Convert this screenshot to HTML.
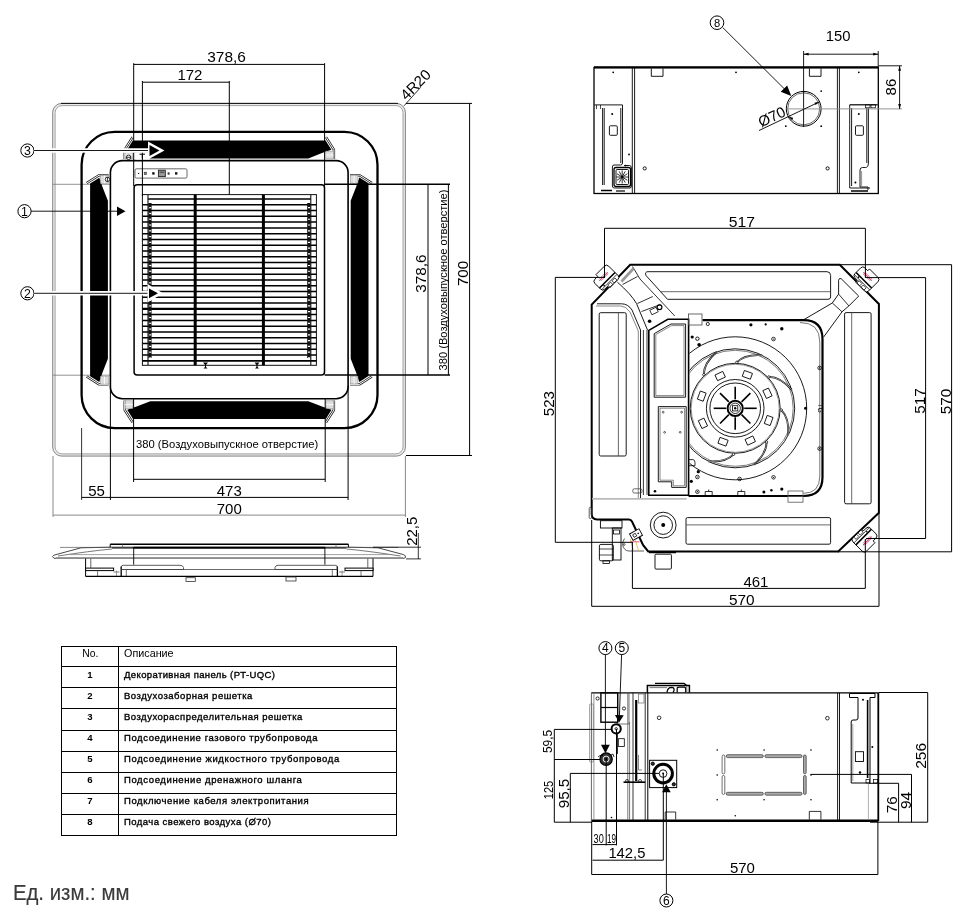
<!DOCTYPE html>
<html><head><meta charset="utf-8"><style>
html,body{margin:0;padding:0;background:#fff;}
body{width:972px;height:920px;overflow:hidden;font-family:"Liberation Sans",sans-serif;}
svg{display:block;will-change:transform;}
</style></head><body>
<svg width="972" height="920" viewBox="0 0 972 920" font-family="Liberation Sans, sans-serif">
<rect x="0" y="0" width="972" height="920" fill="#fff"/>
<rect x="53.90" y="104.40" width="350.30" height="350.50" rx="8" fill="none" stroke="#ebebeb" stroke-width="2.2" />
<rect x="52.70" y="103.40" width="352.70" height="352.70" rx="9" fill="none" stroke="#666" stroke-width="0.8" />
<rect x="55.10" y="105.60" width="347.90" height="348.30" rx="7" fill="none" stroke="#8a8a8a" stroke-width="0.8" />
<line x1="61.00" y1="103.40" x2="398.00" y2="103.40" stroke="#111" stroke-width="1.0" />
<line x1="53.00" y1="184.30" x2="110.00" y2="184.30" stroke="#777" stroke-width="0.8" />
<line x1="53.00" y1="375.20" x2="110.00" y2="375.20" stroke="#777" stroke-width="0.8" />
<rect x="81.60" y="131.80" width="295.90" height="296.30" rx="33" fill="none" stroke="#000" stroke-width="2.3" />
<rect x="110.40" y="160.60" width="237.70" height="238.10" rx="12" fill="none" stroke="#000" stroke-width="1.6" />
<rect x="134.10" y="184.80" width="190.40" height="190.20" rx="3" fill="none" stroke="#000" stroke-width="1.5" />
<rect x="142.40" y="194.60" width="174.00" height="170.70" rx="0" fill="none" stroke="#111" stroke-width="1.0" />
<line x1="147.80" y1="199.00" x2="311.00" y2="199.00" stroke="#000" stroke-width="1.5" />
<line x1="142.40" y1="204.78" x2="316.40" y2="204.78" stroke="#000" stroke-width="1.5" />
<line x1="142.40" y1="210.56" x2="316.40" y2="210.56" stroke="#000" stroke-width="1.5" />
<line x1="142.40" y1="216.34" x2="316.40" y2="216.34" stroke="#000" stroke-width="1.5" />
<line x1="142.40" y1="222.12" x2="316.40" y2="222.12" stroke="#000" stroke-width="1.5" />
<line x1="142.40" y1="227.90" x2="316.40" y2="227.90" stroke="#000" stroke-width="1.5" />
<line x1="142.40" y1="233.68" x2="316.40" y2="233.68" stroke="#000" stroke-width="1.5" />
<line x1="142.40" y1="239.46" x2="316.40" y2="239.46" stroke="#000" stroke-width="1.5" />
<line x1="142.40" y1="245.24" x2="316.40" y2="245.24" stroke="#000" stroke-width="1.5" />
<line x1="142.40" y1="251.02" x2="316.40" y2="251.02" stroke="#000" stroke-width="1.5" />
<line x1="142.40" y1="256.80" x2="316.40" y2="256.80" stroke="#000" stroke-width="1.5" />
<line x1="142.40" y1="262.58" x2="316.40" y2="262.58" stroke="#000" stroke-width="1.5" />
<line x1="142.40" y1="268.36" x2="316.40" y2="268.36" stroke="#000" stroke-width="1.5" />
<line x1="142.40" y1="274.14" x2="316.40" y2="274.14" stroke="#000" stroke-width="1.5" />
<line x1="142.40" y1="279.92" x2="316.40" y2="279.92" stroke="#000" stroke-width="1.5" />
<line x1="142.40" y1="285.70" x2="316.40" y2="285.70" stroke="#000" stroke-width="1.5" />
<line x1="142.40" y1="291.48" x2="316.40" y2="291.48" stroke="#000" stroke-width="1.5" />
<line x1="142.40" y1="297.26" x2="316.40" y2="297.26" stroke="#000" stroke-width="1.5" />
<line x1="142.40" y1="303.04" x2="316.40" y2="303.04" stroke="#000" stroke-width="1.5" />
<line x1="142.40" y1="308.82" x2="316.40" y2="308.82" stroke="#000" stroke-width="2.3" />
<line x1="142.40" y1="314.60" x2="316.40" y2="314.60" stroke="#000" stroke-width="1.5" />
<line x1="142.40" y1="320.38" x2="316.40" y2="320.38" stroke="#000" stroke-width="1.5" />
<line x1="142.40" y1="326.16" x2="316.40" y2="326.16" stroke="#000" stroke-width="1.5" />
<line x1="142.40" y1="331.94" x2="316.40" y2="331.94" stroke="#000" stroke-width="1.5" />
<line x1="142.40" y1="337.72" x2="316.40" y2="337.72" stroke="#000" stroke-width="1.5" />
<line x1="142.40" y1="343.50" x2="316.40" y2="343.50" stroke="#000" stroke-width="1.5" />
<line x1="142.40" y1="349.28" x2="316.40" y2="349.28" stroke="#000" stroke-width="1.5" />
<line x1="142.40" y1="355.06" x2="316.40" y2="355.06" stroke="#000" stroke-width="1.5" />
<line x1="142.40" y1="360.84" x2="316.40" y2="360.84" stroke="#000" stroke-width="1.9" />
<line x1="148.00" y1="195.00" x2="148.00" y2="365.00" stroke="#111" stroke-width="1.1" />
<line x1="310.80" y1="195.00" x2="310.80" y2="365.00" stroke="#111" stroke-width="1.1" />
<line x1="150.00" y1="203.00" x2="150.00" y2="358.00" stroke="#111" stroke-width="3.2" />
<line x1="308.80" y1="203.00" x2="308.80" y2="358.00" stroke="#111" stroke-width="3.2" />
<line x1="149.20" y1="201.90" x2="151.20" y2="201.90" stroke="#fff" stroke-width="1.2" />
<line x1="308.00" y1="201.90" x2="310.00" y2="201.90" stroke="#fff" stroke-width="1.2" />
<line x1="149.20" y1="207.68" x2="151.20" y2="207.68" stroke="#fff" stroke-width="1.2" />
<line x1="308.00" y1="207.68" x2="310.00" y2="207.68" stroke="#fff" stroke-width="1.2" />
<line x1="149.20" y1="213.46" x2="151.20" y2="213.46" stroke="#fff" stroke-width="1.2" />
<line x1="308.00" y1="213.46" x2="310.00" y2="213.46" stroke="#fff" stroke-width="1.2" />
<line x1="149.20" y1="219.24" x2="151.20" y2="219.24" stroke="#fff" stroke-width="1.2" />
<line x1="308.00" y1="219.24" x2="310.00" y2="219.24" stroke="#fff" stroke-width="1.2" />
<line x1="149.20" y1="225.02" x2="151.20" y2="225.02" stroke="#fff" stroke-width="1.2" />
<line x1="308.00" y1="225.02" x2="310.00" y2="225.02" stroke="#fff" stroke-width="1.2" />
<line x1="149.20" y1="230.80" x2="151.20" y2="230.80" stroke="#fff" stroke-width="1.2" />
<line x1="308.00" y1="230.80" x2="310.00" y2="230.80" stroke="#fff" stroke-width="1.2" />
<line x1="149.20" y1="236.58" x2="151.20" y2="236.58" stroke="#fff" stroke-width="1.2" />
<line x1="308.00" y1="236.58" x2="310.00" y2="236.58" stroke="#fff" stroke-width="1.2" />
<line x1="149.20" y1="242.36" x2="151.20" y2="242.36" stroke="#fff" stroke-width="1.2" />
<line x1="308.00" y1="242.36" x2="310.00" y2="242.36" stroke="#fff" stroke-width="1.2" />
<line x1="149.20" y1="248.14" x2="151.20" y2="248.14" stroke="#fff" stroke-width="1.2" />
<line x1="308.00" y1="248.14" x2="310.00" y2="248.14" stroke="#fff" stroke-width="1.2" />
<line x1="149.20" y1="253.92" x2="151.20" y2="253.92" stroke="#fff" stroke-width="1.2" />
<line x1="308.00" y1="253.92" x2="310.00" y2="253.92" stroke="#fff" stroke-width="1.2" />
<line x1="149.20" y1="259.70" x2="151.20" y2="259.70" stroke="#fff" stroke-width="1.2" />
<line x1="308.00" y1="259.70" x2="310.00" y2="259.70" stroke="#fff" stroke-width="1.2" />
<line x1="149.20" y1="265.48" x2="151.20" y2="265.48" stroke="#fff" stroke-width="1.2" />
<line x1="308.00" y1="265.48" x2="310.00" y2="265.48" stroke="#fff" stroke-width="1.2" />
<line x1="149.20" y1="271.26" x2="151.20" y2="271.26" stroke="#fff" stroke-width="1.2" />
<line x1="308.00" y1="271.26" x2="310.00" y2="271.26" stroke="#fff" stroke-width="1.2" />
<line x1="149.20" y1="277.04" x2="151.20" y2="277.04" stroke="#fff" stroke-width="1.2" />
<line x1="308.00" y1="277.04" x2="310.00" y2="277.04" stroke="#fff" stroke-width="1.2" />
<line x1="149.20" y1="282.82" x2="151.20" y2="282.82" stroke="#fff" stroke-width="1.2" />
<line x1="308.00" y1="282.82" x2="310.00" y2="282.82" stroke="#fff" stroke-width="1.2" />
<line x1="149.20" y1="288.60" x2="151.20" y2="288.60" stroke="#fff" stroke-width="1.2" />
<line x1="308.00" y1="288.60" x2="310.00" y2="288.60" stroke="#fff" stroke-width="1.2" />
<line x1="149.20" y1="294.38" x2="151.20" y2="294.38" stroke="#fff" stroke-width="1.2" />
<line x1="308.00" y1="294.38" x2="310.00" y2="294.38" stroke="#fff" stroke-width="1.2" />
<line x1="149.20" y1="300.16" x2="151.20" y2="300.16" stroke="#fff" stroke-width="1.2" />
<line x1="308.00" y1="300.16" x2="310.00" y2="300.16" stroke="#fff" stroke-width="1.2" />
<line x1="149.20" y1="305.94" x2="151.20" y2="305.94" stroke="#fff" stroke-width="1.2" />
<line x1="308.00" y1="305.94" x2="310.00" y2="305.94" stroke="#fff" stroke-width="1.2" />
<line x1="149.20" y1="311.72" x2="151.20" y2="311.72" stroke="#fff" stroke-width="1.2" />
<line x1="308.00" y1="311.72" x2="310.00" y2="311.72" stroke="#fff" stroke-width="1.2" />
<line x1="149.20" y1="317.50" x2="151.20" y2="317.50" stroke="#fff" stroke-width="1.2" />
<line x1="308.00" y1="317.50" x2="310.00" y2="317.50" stroke="#fff" stroke-width="1.2" />
<line x1="149.20" y1="323.28" x2="151.20" y2="323.28" stroke="#fff" stroke-width="1.2" />
<line x1="308.00" y1="323.28" x2="310.00" y2="323.28" stroke="#fff" stroke-width="1.2" />
<line x1="149.20" y1="329.06" x2="151.20" y2="329.06" stroke="#fff" stroke-width="1.2" />
<line x1="308.00" y1="329.06" x2="310.00" y2="329.06" stroke="#fff" stroke-width="1.2" />
<line x1="149.20" y1="334.84" x2="151.20" y2="334.84" stroke="#fff" stroke-width="1.2" />
<line x1="308.00" y1="334.84" x2="310.00" y2="334.84" stroke="#fff" stroke-width="1.2" />
<line x1="149.20" y1="340.62" x2="151.20" y2="340.62" stroke="#fff" stroke-width="1.2" />
<line x1="308.00" y1="340.62" x2="310.00" y2="340.62" stroke="#fff" stroke-width="1.2" />
<line x1="149.20" y1="346.40" x2="151.20" y2="346.40" stroke="#fff" stroke-width="1.2" />
<line x1="308.00" y1="346.40" x2="310.00" y2="346.40" stroke="#fff" stroke-width="1.2" />
<line x1="149.20" y1="352.18" x2="151.20" y2="352.18" stroke="#fff" stroke-width="1.2" />
<line x1="308.00" y1="352.18" x2="310.00" y2="352.18" stroke="#fff" stroke-width="1.2" />
<line x1="149.20" y1="357.96" x2="151.20" y2="357.96" stroke="#fff" stroke-width="1.2" />
<line x1="308.00" y1="357.96" x2="310.00" y2="357.96" stroke="#fff" stroke-width="1.2" />
<line x1="195.20" y1="194.60" x2="195.20" y2="365.30" stroke="#000" stroke-width="3.0" />
<line x1="263.40" y1="194.60" x2="263.40" y2="365.30" stroke="#000" stroke-width="3.0" />
<polygon points="203.00,362.50 208.00,362.50 205.50,365.50" fill="#000" stroke="none" stroke-width="0" />
<line x1="205.50" y1="365.00" x2="205.50" y2="368.00" stroke="#000" stroke-width="1" />
<polygon points="203.50,368.50 207.50,368.50 205.50,366.50" fill="#000" stroke="none" stroke-width="0" />
<polygon points="254.50,362.50 259.50,362.50 257.00,365.50" fill="#000" stroke="none" stroke-width="0" />
<line x1="257.00" y1="365.00" x2="257.00" y2="368.00" stroke="#000" stroke-width="1" />
<polygon points="255.00,368.50 259.00,368.50 257.00,366.50" fill="#000" stroke="none" stroke-width="0" />
<rect x="135.00" y="168.80" width="52.00" height="9.30" rx="1.5" fill="none" stroke="#444" stroke-width="0.8" />
<circle cx="138.60" cy="173.40" r="0.70" fill="#222" stroke="#000" stroke-width="0" />
<rect x="144.20" y="172.20" width="2.40" height="2.40" rx="0" fill="#888" stroke="#333" stroke-width="0.6" />
<rect x="152.20" y="172.20" width="2.40" height="2.40" rx="0" fill="#111" stroke="#000" stroke-width="0" />
<rect x="158.40" y="170.20" width="6.90" height="6.40" rx="0" fill="#999" stroke="#222" stroke-width="0.9" />
<line x1="159.50" y1="172.20" x2="164.20" y2="172.20" stroke="#222" stroke-width="0.8" />
<rect x="167.60" y="172.40" width="2.00" height="2.20" rx="0" fill="#333" stroke="#000" stroke-width="0" />
<rect x="175.00" y="172.20" width="2.40" height="2.40" rx="0" fill="#111" stroke="#000" stroke-width="0" />
<g transform="rotate(0 229.3 279.8)">
<polygon points="150.30,401.20 308.30,401.20 322.00,406.60 331.50,409.80 325.80,419.00 133.00,419.00 127.20,409.80 136.60,406.60" fill="#000" stroke="none" stroke-width="0" />
<path d="M124.7,400.5 L124.7,410 L132.6,422.4" fill="none" stroke="#222" stroke-width="2.4" stroke-linejoin="round"/>
<path d="M124.7,400.5 L124.7,410 L132.6,422.4" fill="none" stroke="#fff" stroke-width="1.0" stroke-linejoin="round"/>
<path d="M333.9,400.5 L333.9,410 L326,422.4" fill="none" stroke="#222" stroke-width="2.4" stroke-linejoin="round"/>
<path d="M333.9,400.5 L333.9,410 L326,422.4" fill="none" stroke="#fff" stroke-width="1.0" stroke-linejoin="round"/>
<rect x="125.20" y="400.80" width="7.60" height="7.60" rx="0" fill="#ddd" stroke="#999" stroke-width="0.6" />
<rect x="326.00" y="400.80" width="7.60" height="7.60" rx="0" fill="#ddd" stroke="#999" stroke-width="0.6" />
<line x1="125.20" y1="404.60" x2="132.80" y2="404.60" stroke="#fff" stroke-width="0.8" />
<line x1="326.00" y1="404.60" x2="333.60" y2="404.60" stroke="#fff" stroke-width="0.8" />
</g>
<g transform="rotate(90 229.3 279.8)">
<polygon points="150.30,401.20 308.30,401.20 322.00,406.60 331.50,409.80 325.80,419.00 133.00,419.00 127.20,409.80 136.60,406.60" fill="#000" stroke="none" stroke-width="0" />
<path d="M124.7,400.5 L124.7,410 L132.6,422.4" fill="none" stroke="#222" stroke-width="2.4" stroke-linejoin="round"/>
<path d="M124.7,400.5 L124.7,410 L132.6,422.4" fill="none" stroke="#fff" stroke-width="1.0" stroke-linejoin="round"/>
<path d="M333.9,400.5 L333.9,410 L326,422.4" fill="none" stroke="#222" stroke-width="2.4" stroke-linejoin="round"/>
<path d="M333.9,400.5 L333.9,410 L326,422.4" fill="none" stroke="#fff" stroke-width="1.0" stroke-linejoin="round"/>
<rect x="125.20" y="400.80" width="7.60" height="7.60" rx="0" fill="#ddd" stroke="#999" stroke-width="0.6" />
<rect x="326.00" y="400.80" width="7.60" height="7.60" rx="0" fill="#ddd" stroke="#999" stroke-width="0.6" />
<line x1="125.20" y1="404.60" x2="132.80" y2="404.60" stroke="#fff" stroke-width="0.8" />
<line x1="326.00" y1="404.60" x2="333.60" y2="404.60" stroke="#fff" stroke-width="0.8" />
</g>
<g transform="rotate(180 229.3 279.8)">
<polygon points="150.30,401.20 308.30,401.20 322.00,406.60 331.50,409.80 325.80,419.00 133.00,419.00 127.20,409.80 136.60,406.60" fill="#000" stroke="none" stroke-width="0" />
<path d="M124.7,400.5 L124.7,410 L132.6,422.4" fill="none" stroke="#222" stroke-width="2.4" stroke-linejoin="round"/>
<path d="M124.7,400.5 L124.7,410 L132.6,422.4" fill="none" stroke="#fff" stroke-width="1.0" stroke-linejoin="round"/>
<path d="M333.9,400.5 L333.9,410 L326,422.4" fill="none" stroke="#222" stroke-width="2.4" stroke-linejoin="round"/>
<path d="M333.9,400.5 L333.9,410 L326,422.4" fill="none" stroke="#fff" stroke-width="1.0" stroke-linejoin="round"/>
<rect x="125.20" y="400.80" width="7.60" height="7.60" rx="0" fill="#ddd" stroke="#999" stroke-width="0.6" />
<rect x="326.00" y="400.80" width="7.60" height="7.60" rx="0" fill="#ddd" stroke="#999" stroke-width="0.6" />
<line x1="125.20" y1="404.60" x2="132.80" y2="404.60" stroke="#fff" stroke-width="0.8" />
<line x1="326.00" y1="404.60" x2="333.60" y2="404.60" stroke="#fff" stroke-width="0.8" />
</g>
<g transform="rotate(270 229.3 279.8)">
<polygon points="150.30,401.20 308.30,401.20 322.00,406.60 331.50,409.80 325.80,419.00 133.00,419.00 127.20,409.80 136.60,406.60" fill="#000" stroke="none" stroke-width="0" />
<path d="M124.7,400.5 L124.7,410 L132.6,422.4" fill="none" stroke="#222" stroke-width="2.4" stroke-linejoin="round"/>
<path d="M124.7,400.5 L124.7,410 L132.6,422.4" fill="none" stroke="#fff" stroke-width="1.0" stroke-linejoin="round"/>
<path d="M333.9,400.5 L333.9,410 L326,422.4" fill="none" stroke="#222" stroke-width="2.4" stroke-linejoin="round"/>
<path d="M333.9,400.5 L333.9,410 L326,422.4" fill="none" stroke="#fff" stroke-width="1.0" stroke-linejoin="round"/>
<rect x="125.20" y="400.80" width="7.60" height="7.60" rx="0" fill="#ddd" stroke="#999" stroke-width="0.6" />
<rect x="326.00" y="400.80" width="7.60" height="7.60" rx="0" fill="#ddd" stroke="#999" stroke-width="0.6" />
<line x1="125.20" y1="404.60" x2="132.80" y2="404.60" stroke="#fff" stroke-width="0.8" />
<line x1="326.00" y1="404.60" x2="333.60" y2="404.60" stroke="#fff" stroke-width="0.8" />
</g>
<circle cx="128.60" cy="157.30" r="2.20" fill="#fff" stroke="#000" stroke-width="0.8" />
<line x1="126.40" y1="157.30" x2="130.80" y2="157.30" stroke="#000" stroke-width="0.8" />
<circle cx="107.40" cy="179.40" r="2.20" fill="#fff" stroke="#000" stroke-width="0.8" />
<line x1="107.40" y1="177.20" x2="107.40" y2="181.60" stroke="#000" stroke-width="0.8" />
<polygon points="135.50,152.20 149.50,152.20 149.50,159.50 135.50,159.50" fill="#fff" stroke="none" stroke-width="0" />
<line x1="139.50" y1="154.20" x2="145.00" y2="154.20" stroke="#000" stroke-width="1.0" />
<line x1="142.30" y1="154.20" x2="142.30" y2="158.50" stroke="#000" stroke-width="1.0" />
<line x1="133.70" y1="63.20" x2="133.70" y2="186.00" stroke="#000" stroke-width="1.0" />
<line x1="324.60" y1="63.20" x2="324.60" y2="186.00" stroke="#000" stroke-width="1.0" />
<line x1="133.70" y1="64.40" x2="324.60" y2="64.40" stroke="#000" stroke-width="1.0" />
<text x="226.60" y="62.40" font-size="15" text-anchor="middle" fill="#000" font-weight="normal" font-family="Liberation Sans, sans-serif"  textLength="38.6" lengthAdjust="spacingAndGlyphs" >378,6</text>
<line x1="142.40" y1="81.00" x2="142.40" y2="196.00" stroke="#000" stroke-width="1.0" />
<line x1="229.30" y1="81.00" x2="229.30" y2="194.60" stroke="#000" stroke-width="1.0" />
<line x1="142.40" y1="82.20" x2="229.30" y2="82.20" stroke="#000" stroke-width="1.0" />
<text x="189.90" y="80.30" font-size="15" text-anchor="middle" fill="#000" font-weight="normal" font-family="Liberation Sans, sans-serif"  textLength="25.0" lengthAdjust="spacingAndGlyphs" >172</text>
<line x1="406.00" y1="103.40" x2="472.00" y2="103.40" stroke="#000" stroke-width="1.0" />
<line x1="406.00" y1="455.50" x2="472.00" y2="455.50" stroke="#000" stroke-width="1.0" />
<line x1="469.60" y1="103.40" x2="469.60" y2="455.50" stroke="#000" stroke-width="1.0" />
<text x="468.40" y="273.50" font-size="15" text-anchor="middle" fill="#000" font-weight="normal" font-family="Liberation Sans, sans-serif" transform="rotate(-90 468.40 273.50)" textLength="25.2" lengthAdjust="spacingAndGlyphs" >700</text>
<line x1="324.60" y1="184.30" x2="450.00" y2="184.30" stroke="#000" stroke-width="1.4" />
<line x1="324.60" y1="375.00" x2="450.00" y2="375.00" stroke="#000" stroke-width="1.4" />
<line x1="428.00" y1="184.30" x2="428.00" y2="375.00" stroke="#000" stroke-width="1.0" />
<text x="426.00" y="273.60" font-size="15" text-anchor="middle" fill="#000" font-weight="normal" font-family="Liberation Sans, sans-serif" transform="rotate(-90 426.00 273.60)" textLength="38.4" lengthAdjust="spacingAndGlyphs" >378,6</text>
<line x1="448.40" y1="184.30" x2="448.40" y2="375.00" stroke="#000" stroke-width="1.0" />
<text x="446.60" y="280.00" font-size="11.2" text-anchor="middle" fill="#000" font-weight="normal" font-family="Liberation Sans, sans-serif" transform="rotate(-90 446.60 280.00)" textLength="181" lengthAdjust="spacingAndGlyphs" >380 (Воздуховыпускное отверстие)</text>
<line x1="404.00" y1="105.80" x2="420.70" y2="87.30" stroke="#000" stroke-width="0.8" />
<text x="406.50" y="101.00" font-size="15" text-anchor="start" fill="#000" font-weight="normal" font-family="Liberation Sans, sans-serif" transform="rotate(-45 406.50 101.00)"  >4R20</text>
<line x1="81.60" y1="428.00" x2="81.60" y2="500.00" stroke="#333" stroke-width="1.0" />
<line x1="110.40" y1="386.00" x2="110.40" y2="500.00" stroke="#000" stroke-width="1.0" />
<line x1="133.60" y1="398.70" x2="133.60" y2="482.00" stroke="#000" stroke-width="1.0" />
<line x1="325.20" y1="398.70" x2="325.20" y2="482.00" stroke="#000" stroke-width="1.0" />
<line x1="348.10" y1="386.00" x2="348.10" y2="500.00" stroke="#000" stroke-width="1.0" />
<line x1="133.60" y1="479.30" x2="325.20" y2="479.30" stroke="#000" stroke-width="1.0" />
<text x="136.00" y="448.00" font-size="10.7" text-anchor="start" fill="#000" font-weight="normal" font-family="Liberation Sans, sans-serif"  textLength="182.3" lengthAdjust="spacingAndGlyphs" >380 (Воздуховыпускное отверстие)</text>
<line x1="81.60" y1="497.40" x2="348.10" y2="497.40" stroke="#000" stroke-width="1.0" />
<text x="96.50" y="495.50" font-size="15" text-anchor="middle" fill="#000" font-weight="normal" font-family="Liberation Sans, sans-serif"   >55</text>
<text x="229.30" y="495.50" font-size="15" text-anchor="middle" fill="#000" font-weight="normal" font-family="Liberation Sans, sans-serif"   >473</text>
<line x1="53.00" y1="456.00" x2="53.00" y2="517.00" stroke="#888" stroke-width="1.0" />
<line x1="405.40" y1="456.00" x2="405.40" y2="517.00" stroke="#888" stroke-width="1.0" />
<line x1="53.00" y1="515.10" x2="405.40" y2="515.10" stroke="#888" stroke-width="1.0" />
<text x="229.30" y="513.50" font-size="15" text-anchor="middle" fill="#000" font-weight="normal" font-family="Liberation Sans, sans-serif"   >700</text>
<circle cx="27.40" cy="150.50" r="6.60" fill="none" stroke="#000" stroke-width="1.0" />
<text x="27.40" y="154.93" font-size="12.3" text-anchor="middle" fill="#000" font-weight="normal" font-family="Liberation Sans, sans-serif"   >3</text>
<circle cx="24.50" cy="211.20" r="6.60" fill="none" stroke="#000" stroke-width="1.0" />
<text x="24.50" y="215.63" font-size="12.3" text-anchor="middle" fill="#000" font-weight="normal" font-family="Liberation Sans, sans-serif"   >1</text>
<circle cx="27.40" cy="293.30" r="6.60" fill="none" stroke="#000" stroke-width="1.0" />
<text x="27.40" y="297.73" font-size="12.3" text-anchor="middle" fill="#000" font-weight="normal" font-family="Liberation Sans, sans-serif"   >2</text>
<line x1="34.00" y1="150.50" x2="152.00" y2="150.50" stroke="#fff" stroke-width="4.5" />
<line x1="34.00" y1="150.50" x2="152.00" y2="150.50" stroke="#000" stroke-width="0.9" />
<polygon points="164.50,150.50 148.00,141.60 148.00,159.40" fill="#fff" stroke="none" stroke-width="0" />
<polygon points="159.50,150.50 149.50,145.00 149.50,156.00" fill="#000" stroke="none" stroke-width="0" />
<line x1="31.10" y1="211.20" x2="118.00" y2="211.20" stroke="#000" stroke-width="0.9" />
<polygon points="125.50,211.20 117.00,206.50 117.00,215.90" fill="#000" stroke="none" stroke-width="0" />
<line x1="34.00" y1="293.30" x2="150.00" y2="293.30" stroke="#fff" stroke-width="4.5" />
<line x1="34.00" y1="293.30" x2="150.00" y2="293.30" stroke="#000" stroke-width="0.9" />
<polygon points="163.00,293.30 147.50,284.00 147.50,302.60" fill="#fff" stroke="none" stroke-width="0" />
<polygon points="158.00,293.30 149.00,288.60 149.00,298.20" fill="#000" stroke="none" stroke-width="0" />
<path d="M52.5,556.6 Q53,555 56,554.6 L81,547.8 L110,547.2 L349,547.2 L378,547.8 L403.5,554.6 Q406,555.5 405.5,557.5 L404,558.3 L54,558.3 Z" fill="none" stroke="#333" stroke-width="0.9" />
<path d="M58,556 Q90,551 112,549" fill="none" stroke="#555" stroke-width="0.8" />
<path d="M400.5,556 Q368.5,551 346.5,549" fill="none" stroke="#555" stroke-width="0.8" />
<line x1="60.00" y1="547.40" x2="110.20" y2="547.40" stroke="#555" stroke-width="0.7" />
<line x1="348.40" y1="547.40" x2="398.50" y2="547.40" stroke="#555" stroke-width="0.7" />
<line x1="70.00" y1="554.60" x2="389.00" y2="554.60" stroke="#888" stroke-width="0.8" />
<line x1="56.00" y1="557.90" x2="403.00" y2="557.90" stroke="#999" stroke-width="1.6" />
<line x1="110.20" y1="544.30" x2="348.40" y2="544.30" stroke="#000" stroke-width="1.4" />
<line x1="110.20" y1="544.30" x2="110.20" y2="547.40" stroke="#000" stroke-width="1.0" />
<line x1="348.40" y1="544.30" x2="348.40" y2="547.40" stroke="#000" stroke-width="1.0" />
<line x1="112.00" y1="548.00" x2="346.50" y2="548.00" stroke="#000" stroke-width="1.1" />
<line x1="122.60" y1="544.30" x2="122.60" y2="548.00" stroke="#555" stroke-width="0.7" />
<line x1="336.00" y1="544.30" x2="336.00" y2="548.00" stroke="#555" stroke-width="0.7" />
<line x1="133.30" y1="547.70" x2="325.30" y2="547.70" stroke="#000" stroke-width="1.8" />
<line x1="133.70" y1="547.50" x2="133.70" y2="564.70" stroke="#000" stroke-width="0.9" />
<line x1="324.90" y1="547.50" x2="324.90" y2="564.70" stroke="#000" stroke-width="0.9" />
<line x1="85.60" y1="558.50" x2="85.60" y2="576.40" stroke="#000" stroke-width="1.0" />
<line x1="90.80" y1="558.50" x2="90.80" y2="567.80" stroke="#555" stroke-width="0.9" />
<rect x="85.60" y="568.10" width="28.00" height="2.50" rx="0" fill="#fff" stroke="#000" stroke-width="1.0" />
<line x1="97.60" y1="570.60" x2="97.60" y2="576.40" stroke="#555" stroke-width="0.8" />
<line x1="113.60" y1="572.00" x2="119.50" y2="572.00" stroke="#555" stroke-width="0.8" />
<line x1="116.50" y1="570.60" x2="116.50" y2="576.40" stroke="#777" stroke-width="0.7" />
<line x1="126.30" y1="569.00" x2="126.30" y2="576.40" stroke="#555" stroke-width="0.8" />
<line x1="121.20" y1="566.50" x2="121.20" y2="576.40" stroke="#000" stroke-width="1.3" />
<line x1="373.00" y1="558.50" x2="373.00" y2="576.40" stroke="#000" stroke-width="1.0" />
<line x1="367.80" y1="558.50" x2="367.80" y2="567.80" stroke="#555" stroke-width="0.9" />
<rect x="345.00" y="568.10" width="28.00" height="2.50" rx="0" fill="#fff" stroke="#000" stroke-width="1.0" />
<line x1="361.00" y1="570.60" x2="361.00" y2="576.40" stroke="#555" stroke-width="0.8" />
<line x1="345.00" y1="572.00" x2="339.10" y2="572.00" stroke="#555" stroke-width="0.8" />
<line x1="342.10" y1="570.60" x2="342.10" y2="576.40" stroke="#777" stroke-width="0.7" />
<line x1="332.30" y1="569.00" x2="332.30" y2="576.40" stroke="#555" stroke-width="0.8" />
<line x1="337.40" y1="566.50" x2="337.40" y2="576.40" stroke="#000" stroke-width="1.3" />
<line x1="85.60" y1="576.40" x2="373.00" y2="576.40" stroke="#000" stroke-width="1.2" />
<path d="M121.3,569.5 L121.3,567 Q121.3,565.3 123.3,565.3 L180,565.3 Q183,565.3 183.5,567.5 L183.5,569.5 Z" fill="none" stroke="#333" stroke-width="0.8" />
<path d="M275,569.5 L275,567.5 Q275.5,565.3 278,565.3 L335.3,565.3 Q337.3,565.3 337.3,567 L337.3,569.5 Z" fill="none" stroke="#333" stroke-width="0.8" />
<line x1="121.30" y1="569.50" x2="337.30" y2="569.50" stroke="#444" stroke-width="0.8" />
<rect x="186.00" y="577.70" width="9.30" height="3.70" rx="0" fill="none" stroke="#333" stroke-width="0.8" />
<rect x="286.00" y="577.00" width="10.00" height="4.00" rx="0" fill="none" stroke="#333" stroke-width="0.8" />
<line x1="373.00" y1="547.20" x2="421.00" y2="547.20" stroke="#000" stroke-width="0.8" />
<line x1="406.00" y1="558.90" x2="421.00" y2="558.90" stroke="#000" stroke-width="0.8" />
<line x1="418.30" y1="533.00" x2="418.30" y2="559.00" stroke="#000" stroke-width="0.8" />
<text x="416.80" y="531.20" font-size="15" text-anchor="middle" fill="#000" font-weight="normal" font-family="Liberation Sans, sans-serif" transform="rotate(-90 416.80 531.20)"  >22,5</text>
<rect x="594.00" y="67.50" width="284.30" height="126.00" rx="0" fill="none" stroke="#000" stroke-width="1.3" />
<line x1="594.00" y1="67.40" x2="878.30" y2="67.40" stroke="#000" stroke-width="2.2" />
<line x1="632.30" y1="67.50" x2="632.30" y2="193.50" stroke="#000" stroke-width="0.9" />
<line x1="634.60" y1="67.50" x2="634.60" y2="193.50" stroke="#000" stroke-width="0.9" />
<line x1="837.40" y1="67.50" x2="837.40" y2="193.50" stroke="#000" stroke-width="0.9" />
<line x1="839.40" y1="67.50" x2="839.40" y2="193.50" stroke="#000" stroke-width="0.9" />
<path d="M651.3,68.5 L651.3,76.3 L663,76.3 L663,68.5" fill="none" stroke="#000" stroke-width="0.9" />
<path d="M809.4,68.5 L809.4,76.3 L821,76.3 L821,68.5" fill="none" stroke="#000" stroke-width="0.9" />
<circle cx="613.20" cy="72.30" r="0.90" fill="#000" stroke="#000" stroke-width="0" />
<circle cx="736.00" cy="72.30" r="0.90" fill="#000" stroke="#000" stroke-width="0" />
<circle cx="858.80" cy="72.30" r="0.90" fill="#000" stroke="#000" stroke-width="0" />
<circle cx="821.20" cy="91.10" r="0.90" fill="#000" stroke="#000" stroke-width="0" />
<circle cx="785.80" cy="126.20" r="0.90" fill="#000" stroke="#000" stroke-width="0" />
<circle cx="821.20" cy="126.20" r="0.90" fill="#000" stroke="#000" stroke-width="0" />
<circle cx="629.00" cy="154.50" r="0.90" fill="#000" stroke="#000" stroke-width="0" />
<circle cx="625.50" cy="165.60" r="0.90" fill="#000" stroke="#000" stroke-width="0" />
<circle cx="644.70" cy="168.40" r="1.60" fill="none" stroke="#000" stroke-width="0.9" />
<circle cx="827.60" cy="168.40" r="1.60" fill="none" stroke="#000" stroke-width="0.9" />
<path d="M594.4,104.9 L622.5,104.9 L622.5,163 Q622.5,165 620.5,165 L614,165 Q612.4,165 612.4,167 L612.4,186 Q612.4,188 614.4,188 L630,188 Q631.4,188 631.4,186 L631.4,168 Q631.4,165.5 629.4,165.5 L624,165.5" fill="none" stroke="#000" stroke-width="0.9" />
<line x1="602.60" y1="108.00" x2="602.60" y2="185.00" stroke="#000" stroke-width="0.9" />
<line x1="604.20" y1="108.00" x2="604.20" y2="185.00" stroke="#000" stroke-width="0.9" />
<line x1="620.80" y1="108.00" x2="620.80" y2="163.00" stroke="#000" stroke-width="0.9" />
<line x1="596.50" y1="105.00" x2="596.50" y2="109.00" stroke="#000" stroke-width="0.7" />
<line x1="600.50" y1="105.00" x2="600.50" y2="109.00" stroke="#000" stroke-width="0.7" />
<rect x="609.40" y="125.80" width="7.90" height="9.50" rx="1" fill="none" stroke="#000" stroke-width="0.9" />
<circle cx="612.20" cy="114.00" r="1.00" fill="#000" stroke="#000" stroke-width="0" />
<rect x="614.00" y="167.50" width="16.50" height="19.00" rx="2" fill="none" stroke="#000" stroke-width="1.3" />
<rect x="616.00" y="169.50" width="12.50" height="15.00" rx="1" fill="none" stroke="#000" stroke-width="0.9" />
<line x1="616.20" y1="177.00" x2="628.20" y2="177.00" stroke="#000" stroke-width="0.8" />
<line x1="617.00" y1="173.75" x2="627.40" y2="180.25" stroke="#000" stroke-width="0.8" />
<line x1="619.20" y1="171.37" x2="625.20" y2="182.63" stroke="#000" stroke-width="0.8" />
<line x1="622.20" y1="170.50" x2="622.20" y2="183.50" stroke="#000" stroke-width="0.8" />
<line x1="625.20" y1="171.37" x2="619.20" y2="182.63" stroke="#000" stroke-width="0.8" />
<line x1="627.40" y1="173.75" x2="617.00" y2="180.25" stroke="#000" stroke-width="0.8" />
<line x1="601.00" y1="190.50" x2="612.00" y2="190.50" stroke="#000" stroke-width="1.5" />
<line x1="616.00" y1="191.00" x2="625.00" y2="191.00" stroke="#000" stroke-width="1.2" />
<path d="M849.7,104.8 L877.7,104.8" fill="none" stroke="#000" stroke-width="1.2" />
<path d="M849.7,104.8 L849.7,188 L870,188" fill="none" stroke="#000" stroke-width="0.9" />
<line x1="851.60" y1="108.00" x2="851.60" y2="186.00" stroke="#000" stroke-width="0.9" />
<line x1="866.80" y1="108.00" x2="866.80" y2="163.00" stroke="#000" stroke-width="0.9" />
<line x1="868.40" y1="108.00" x2="868.40" y2="163.00" stroke="#000" stroke-width="0.9" />
<path d="M868.4,163 Q868.4,167.5 865.5,167.5 L862.5,167.5 Q860,167.5 860,170 L860,187 L868,187 L868,190" fill="none" stroke="#000" stroke-width="0.9" />
<line x1="861.60" y1="171.00" x2="861.60" y2="186.00" stroke="#666" stroke-width="0.7" />
<rect x="855.50" y="125.80" width="7.90" height="9.50" rx="1" fill="none" stroke="#000" stroke-width="0.9" />
<circle cx="858.80" cy="114.00" r="1.00" fill="#000" stroke="#000" stroke-width="0" />
<circle cx="855.40" cy="182.40" r="1.00" fill="#000" stroke="#000" stroke-width="0" />
<line x1="851.00" y1="191.00" x2="868.00" y2="191.00" stroke="#000" stroke-width="1.5" />
<rect x="865.50" y="104.80" width="4.50" height="3.00" rx="0" fill="none" stroke="#000" stroke-width="0.7" />
<rect x="871.00" y="104.80" width="4.50" height="3.00" rx="0" fill="none" stroke="#000" stroke-width="0.7" />
<circle cx="803.70" cy="108.80" r="17.40" fill="none" stroke="#000" stroke-width="1.0" />
<circle cx="803.70" cy="108.80" r="16.00" fill="none" stroke="#444" stroke-width="0.8" />
<line x1="803.60" y1="51.00" x2="803.60" y2="127.00" stroke="#000" stroke-width="0.9" />
<line x1="878.20" y1="51.00" x2="878.20" y2="67.00" stroke="#000" stroke-width="0.9" />
<line x1="803.60" y1="54.20" x2="878.20" y2="54.20" stroke="#000" stroke-width="0.9" />
<polygon points="803.60,54.20 808.60,52.80 808.60,55.60" fill="#000" stroke="none" stroke-width="0" />
<polygon points="878.20,54.20 873.20,55.60 873.20,52.80" fill="#000" stroke="none" stroke-width="0" />
<text x="838.20" y="41.40" font-size="14.8" text-anchor="middle" fill="#000" font-weight="normal" font-family="Liberation Sans, sans-serif"   >150</text>
<line x1="878.50" y1="65.80" x2="902.00" y2="65.80" stroke="#000" stroke-width="0.9" />
<line x1="788.00" y1="108.90" x2="902.00" y2="108.90" stroke="#888" stroke-width="0.9" />
<line x1="899.60" y1="65.80" x2="899.60" y2="108.90" stroke="#000" stroke-width="0.9" />
<polygon points="899.60,65.80 901.00,70.80 898.20,70.80" fill="#000" stroke="none" stroke-width="0" />
<polygon points="899.60,108.90 898.20,103.90 901.00,103.90" fill="#000" stroke="none" stroke-width="0" />
<text x="896.30" y="87.10" font-size="15" text-anchor="middle" fill="#000" font-weight="normal" font-family="Liberation Sans, sans-serif" transform="rotate(-90 896.30 87.10)"  >86</text>
<circle cx="717.00" cy="22.70" r="6.80" fill="none" stroke="#000" stroke-width="1.0" />
<text x="717.00" y="26.73" font-size="11.2" text-anchor="middle" fill="#000" font-weight="normal" font-family="Liberation Sans, sans-serif"   >8</text>
<line x1="722.80" y1="27.60" x2="786.00" y2="90.50" stroke="#000" stroke-width="0.9" />
<polygon points="791.30,96.10 780.73,91.76 787.15,85.46" fill="#000" stroke="none" stroke-width="0" />
<line x1="759.00" y1="130.50" x2="819.50" y2="101.80" stroke="#000" stroke-width="0.9" />
<polygon points="788.20,116.70 793.27,117.67 792.16,120.02" fill="#000" stroke="none" stroke-width="0" />
<polygon points="819.50,101.80 815.54,105.12 814.43,102.77" fill="#000" stroke="none" stroke-width="0" />
<text x="761.20" y="127.60" font-size="15" text-anchor="start" fill="#000" font-weight="normal" font-family="Liberation Sans, sans-serif" transform="rotate(-25.5 761.20 127.60)"  >Ø70</text>
<path d="M630.2,264.8 L839.8,264.8 L878.9,304 L878.9,512.8 L838.2,551.4 L648.2,551.4 L643,545 L632,521.5 Q631,519.4 629,519.4 L597,519.4 Q591.7,519.4 591.7,514 L591.7,304.6 Z" fill="none" stroke="#000" stroke-width="2.0" />
<rect x="589.20" y="507.40" width="2.40" height="11.10" rx="1" fill="none" stroke="#333" stroke-width="0.8" />
<path d="M648,271.7 L827,271.7 Q830.6,271.7 830.6,275.5 L830.6,297 Q830.6,299.3 828,299.3 L667.5,299.3 L646,275.5 Q644.5,271.7 648,271.7 Z" fill="none" stroke="#000" stroke-width="0.9" />
<line x1="660.00" y1="291.70" x2="830.60" y2="291.70" stroke="#444" stroke-width="0.8" />
<rect x="686.00" y="517.60" width="144.60" height="26.60" rx="1.5" fill="none" stroke="#000" stroke-width="0.9" />
<line x1="686.00" y1="524.90" x2="830.60" y2="524.90" stroke="#444" stroke-width="0.8" />
<rect x="599.20" y="312.70" width="27.00" height="143.30" rx="1.5" fill="none" stroke="#000" stroke-width="0.9" />
<line x1="618.40" y1="312.70" x2="618.40" y2="456.00" stroke="#444" stroke-width="0.8" />
<rect x="844.60" y="312.60" width="26.50" height="191.20" rx="1.5" fill="none" stroke="#000" stroke-width="0.9" />
<line x1="851.70" y1="312.60" x2="851.70" y2="503.80" stroke="#444" stroke-width="0.8" />
<path d="M597,303.8 L621.5,303.8 Q628,303.8 632,310 L640.5,330 L640.5,498" fill="none" stroke="#000" stroke-width="0.9" />
<path d="M596,306 L620.5,306 Q626,306 630,312 L638.3,331 L638.3,498" fill="none" stroke="#555" stroke-width="0.7" />
<line x1="592.00" y1="498.80" x2="686.50" y2="498.80" stroke="#888" stroke-width="1.6" />
<line x1="592.00" y1="498.80" x2="686.50" y2="498.80" stroke="#fff" stroke-width="0.6" />
<line x1="643.40" y1="330.00" x2="643.40" y2="495.00" stroke="#000" stroke-width="0.8" />
<line x1="647.00" y1="330.00" x2="647.00" y2="495.00" stroke="#000" stroke-width="0.8" />
<path d="M617.4,282.2 Q631,294 636.5,303.5 L647.5,330" fill="none" stroke="#000" stroke-width="0.9" />
<path d="M632.5,266.5 L640,279 L674.8,316" fill="none" stroke="#000" stroke-width="0.8" />
<line x1="621.50" y1="281.50" x2="633.50" y2="268.50" stroke="#999" stroke-width="2.6" />
<line x1="622.50" y1="284.50" x2="637.50" y2="276.50" stroke="#000" stroke-width="0.8" />
<line x1="637.40" y1="303.50" x2="652.80" y2="296.50" stroke="#000" stroke-width="0.8" />
<line x1="641.50" y1="311.50" x2="660.50" y2="304.50" stroke="#000" stroke-width="0.8" />
<rect x="650.50" y="308.50" width="7.00" height="5.00" rx="0" fill="none" stroke="#000" stroke-width="0.7" transform="rotate(-25 654 311)"/>
<circle cx="659.50" cy="307.30" r="2.40" fill="none" stroke="#000" stroke-width="1.2" />
<circle cx="649.60" cy="321.30" r="1.80" fill="#000" stroke="#000" stroke-width="0" />
<circle cx="707.80" cy="324.00" r="1.60" fill="none" stroke="#000" stroke-width="0.8" />
<circle cx="692.20" cy="337.00" r="1.60" fill="#000" stroke="#000" stroke-width="0" />
<circle cx="697.40" cy="338.70" r="1.70" fill="none" stroke="#000" stroke-width="0.9" />
<circle cx="699.10" cy="344.80" r="1.80" fill="#000" stroke="#000" stroke-width="0" />
<path d="M648.8,495.2 L648.8,330.4 L667.8,319.2 L688.6,319.2 L688.6,495.2 Z" fill="none" stroke="#000" stroke-width="1.6" />
<path d="M654.2,397.2 L654.2,333.7 L671,324 L685.6,324 L685.6,397.2 Z" fill="none" stroke="#000" stroke-width="0.9" />
<path d="M655.8,395.6 L655.8,334.6 L671.5,325.6 L684,325.6 L684,395.6 Z" fill="none" stroke="#555" stroke-width="0.7" />
<path d="M658.3,406.6 L686.2,406.6 L686.2,487.4 L671.7,487.4 L671.7,481.8 L658.3,481.8 Z" fill="none" stroke="#000" stroke-width="0.9" />
<path d="M660,408.2 L684.6,408.2 L684.6,485.8 L673.3,485.8 L673.3,480.2 L660,480.2 Z" fill="none" stroke="#555" stroke-width="0.7" />
<circle cx="663.20" cy="412.20" r="0.90" fill="none" stroke="#000" stroke-width="0.6" />
<circle cx="681.60" cy="412.20" r="0.90" fill="none" stroke="#000" stroke-width="0.6" />
<circle cx="664.60" cy="432.30" r="0.90" fill="none" stroke="#000" stroke-width="0.6" />
<circle cx="680.20" cy="432.30" r="0.90" fill="none" stroke="#000" stroke-width="0.6" />
<rect x="688.50" y="314.00" width="13.50" height="11.00" rx="0" fill="none" stroke="#444" stroke-width="0.8" />
<rect x="632.80" y="488.80" width="9.20" height="4.20" rx="1.5" fill="none" stroke="#444" stroke-width="0.8" />
<circle cx="655.00" cy="491.20" r="1.30" fill="#000" stroke="#000" stroke-width="0" />
<path d="M702.6,320.1 L803.5,320.1 Q822.5,320.1 822.5,339 L822.5,477 Q822.5,496 803.5,496 L688.6,496" fill="none" stroke="#000" stroke-width="2.2" />
<path d="M800,322.5 Q819.8,322.5 819.8,342 L819.8,476 Q819.8,493.3 803.5,493.3" fill="none" stroke="#555" stroke-width="0.8" />
<path d="M803.9,319.6 L832.3,303 L838.6,294.1 L838.6,280.5 Q838.6,278 841,278.5 L858.7,296.1 L848.9,305.9 L842,311.8 L823.5,337.2" fill="none" stroke="#000" stroke-width="0.9" />
<line x1="832.30" y1="303.00" x2="842.00" y2="311.80" stroke="#000" stroke-width="0.8" />
<line x1="838.60" y1="294.10" x2="848.90" y2="305.90" stroke="#000" stroke-width="0.8" />
<clipPath id="fanclip"><rect x="689.5" y="300" width="160" height="195"/></clipPath>
<g clip-path="url(#fanclip)">
<circle cx="735.20" cy="408.30" r="71.50" fill="none" stroke="#000" stroke-width="0.9" />
<circle cx="735.20" cy="408.30" r="59.50" fill="none" stroke="#000" stroke-width="0.9" />
<circle cx="735.20" cy="408.30" r="58.00" fill="none" stroke="#444" stroke-width="0.7" />
</g>
<circle cx="735.20" cy="408.30" r="45.00" fill="none" stroke="#000" stroke-width="0.9" />
<circle cx="735.20" cy="408.30" r="44.00" fill="none" stroke="#555" stroke-width="0.6" />
<circle cx="735.20" cy="408.30" r="28.80" fill="none" stroke="#000" stroke-width="0.9" />
<circle cx="735.20" cy="408.30" r="25.30" fill="none" stroke="#000" stroke-width="0.9" />
<circle cx="735.20" cy="408.30" r="7.60" fill="none" stroke="#000" stroke-width="2.0" />
<circle cx="735.20" cy="408.30" r="5.20" fill="none" stroke="#000" stroke-width="0.8" />
<rect x="732.60" y="405.70" width="5.20" height="5.20" rx="0" fill="none" stroke="#000" stroke-width="0.8" />
<circle cx="735.20" cy="408.30" r="1.20" fill="#000" stroke="#000" stroke-width="0" />
<line x1="744.20" y1="408.30" x2="756.70" y2="408.30" stroke="#000" stroke-width="1.6" />
<line x1="741.56" y1="414.66" x2="750.40" y2="423.50" stroke="#000" stroke-width="1.6" />
<line x1="735.20" y1="417.30" x2="735.20" y2="429.80" stroke="#000" stroke-width="1.6" />
<line x1="728.84" y1="414.66" x2="720.00" y2="423.50" stroke="#000" stroke-width="1.6" />
<line x1="726.20" y1="408.30" x2="713.70" y2="408.30" stroke="#000" stroke-width="1.6" />
<line x1="728.84" y1="401.94" x2="720.00" y2="393.10" stroke="#000" stroke-width="1.6" />
<line x1="735.20" y1="399.30" x2="735.20" y2="386.80" stroke="#000" stroke-width="1.6" />
<line x1="741.56" y1="401.94" x2="750.40" y2="393.10" stroke="#000" stroke-width="1.6" />
<g transform="rotate(20 735.2 408.3)">
<rect x="767.70" y="404.00" width="6.20" height="8.60" rx="0" fill="none" stroke="#000" stroke-width="0.8" />
</g>
<g transform="rotate(65 735.2 408.3)">
<rect x="767.70" y="404.00" width="6.20" height="8.60" rx="0" fill="none" stroke="#000" stroke-width="0.8" />
</g>
<g transform="rotate(110 735.2 408.3)">
<rect x="767.70" y="404.00" width="6.20" height="8.60" rx="0" fill="none" stroke="#000" stroke-width="0.8" />
</g>
<g transform="rotate(155 735.2 408.3)">
<rect x="767.70" y="404.00" width="6.20" height="8.60" rx="0" fill="none" stroke="#000" stroke-width="0.8" />
</g>
<g transform="rotate(200 735.2 408.3)">
<rect x="767.70" y="404.00" width="6.20" height="8.60" rx="0" fill="none" stroke="#000" stroke-width="0.8" />
</g>
<g transform="rotate(245 735.2 408.3)">
<rect x="767.70" y="404.00" width="6.20" height="8.60" rx="0" fill="none" stroke="#000" stroke-width="0.8" />
</g>
<g transform="rotate(290 735.2 408.3)">
<rect x="767.70" y="404.00" width="6.20" height="8.60" rx="0" fill="none" stroke="#000" stroke-width="0.8" />
</g>
<g transform="rotate(335 735.2 408.3)">
<rect x="767.70" y="404.00" width="6.20" height="8.60" rx="0" fill="none" stroke="#000" stroke-width="0.8" />
</g>
<path d="M781.2,409.9 Q789.4,417.9 788.2,435.3" fill="none" stroke="#000" stroke-width="1.8" />
<path d="M781.2,409.9 Q789.4,417.9 788.2,435.3" fill="none" stroke="#fff" stroke-width="0.6" />
<circle cx="781.17" cy="409.91" r="1.20" fill="#fff" stroke="#000" stroke-width="0.7" />
<path d="M766.6,441.9 Q766.7,453.4 753.6,464.9" fill="none" stroke="#000" stroke-width="1.8" />
<path d="M766.6,441.9 Q766.7,453.4 753.6,464.9" fill="none" stroke="#fff" stroke-width="0.6" />
<circle cx="766.57" cy="441.94" r="1.20" fill="#fff" stroke="#000" stroke-width="0.7" />
<path d="M733.6,454.3 Q725.6,462.5 708.2,461.3" fill="none" stroke="#000" stroke-width="1.8" />
<path d="M733.6,454.3 Q725.6,462.5 708.2,461.3" fill="none" stroke="#fff" stroke-width="0.6" />
<circle cx="733.59" cy="454.27" r="1.20" fill="#fff" stroke="#000" stroke-width="0.7" />
<path d="M703.8,374.7 Q703.7,363.2 716.8,351.7" fill="none" stroke="#000" stroke-width="1.8" />
<path d="M703.8,374.7 Q703.7,363.2 716.8,351.7" fill="none" stroke="#fff" stroke-width="0.6" />
<circle cx="703.83" cy="374.66" r="1.20" fill="#fff" stroke="#000" stroke-width="0.7" />
<path d="M736.8,362.3 Q744.8,354.1 762.2,355.3" fill="none" stroke="#000" stroke-width="1.8" />
<path d="M736.8,362.3 Q744.8,354.1 762.2,355.3" fill="none" stroke="#fff" stroke-width="0.6" />
<circle cx="736.81" cy="362.33" r="1.20" fill="#fff" stroke="#000" stroke-width="0.7" />
<path d="M768.8,376.9 Q780.3,376.8 791.8,389.9" fill="none" stroke="#000" stroke-width="1.8" />
<path d="M768.8,376.9 Q780.3,376.8 791.8,389.9" fill="none" stroke="#fff" stroke-width="0.6" />
<circle cx="768.84" cy="376.93" r="1.20" fill="#fff" stroke="#000" stroke-width="0.7" />
<circle cx="773.50" cy="339.00" r="1.80" fill="none" stroke="#000" stroke-width="0.8" />
<circle cx="773.50" cy="339.00" r="0.60" fill="#000" stroke="#000" stroke-width="0" />
<circle cx="819.60" cy="367.90" r="1.80" fill="none" stroke="#000" stroke-width="0.8" />
<circle cx="819.60" cy="367.90" r="0.60" fill="#000" stroke="#000" stroke-width="0" />
<circle cx="819.60" cy="448.60" r="1.80" fill="none" stroke="#000" stroke-width="0.8" />
<circle cx="819.60" cy="448.60" r="0.60" fill="#000" stroke="#000" stroke-width="0" />
<circle cx="739.60" cy="479.00" r="1.80" fill="none" stroke="#000" stroke-width="0.8" />
<circle cx="739.60" cy="479.00" r="0.60" fill="#000" stroke="#000" stroke-width="0" />
<circle cx="773.50" cy="477.30" r="1.80" fill="none" stroke="#000" stroke-width="0.8" />
<circle cx="773.50" cy="477.30" r="0.60" fill="#000" stroke="#000" stroke-width="0" />
<circle cx="697.40" cy="477.00" r="1.80" fill="none" stroke="#000" stroke-width="0.8" />
<circle cx="697.40" cy="477.00" r="0.60" fill="#000" stroke="#000" stroke-width="0" />
<circle cx="697.40" cy="491.70" r="1.80" fill="none" stroke="#000" stroke-width="0.8" />
<circle cx="697.40" cy="491.70" r="0.60" fill="#000" stroke="#000" stroke-width="0" />
<circle cx="750.90" cy="324.80" r="1.60" fill="#000" stroke="#000" stroke-width="0" />
<circle cx="765.70" cy="324.40" r="1.10" fill="#000" stroke="#000" stroke-width="0" />
<circle cx="781.80" cy="328.80" r="1.70" fill="#000" stroke="#000" stroke-width="0" />
<circle cx="763.90" cy="492.10" r="1.50" fill="#000" stroke="#000" stroke-width="0" />
<circle cx="771.40" cy="490.30" r="1.20" fill="#000" stroke="#000" stroke-width="0" />
<circle cx="781.80" cy="489.10" r="1.60" fill="#000" stroke="#000" stroke-width="0" />
<circle cx="698.30" cy="471.70" r="1.60" fill="#000" stroke="#000" stroke-width="0" />
<circle cx="691.30" cy="481.30" r="1.60" fill="#000" stroke="#000" stroke-width="0" />
<circle cx="805.50" cy="408.30" r="1.50" fill="#000" stroke="#000" stroke-width="0" />
<path d="M737.8,495 L737.8,491.5 L744.8,491.5 L744.8,495" fill="none" stroke="#000" stroke-width="0.8" />
<line x1="741.30" y1="489.50" x2="741.30" y2="491.50" stroke="#000" stroke-width="0.8" />
<path d="M705.2,495 L705.2,491.5 L712.2,491.5 L712.2,495" fill="none" stroke="#000" stroke-width="0.8" />
<line x1="708.70" y1="489.50" x2="708.70" y2="491.50" stroke="#000" stroke-width="0.8" />
<rect x="788.00" y="491.00" width="15.00" height="11.20" rx="0" fill="none" stroke="#555" stroke-width="0.8" />
<line x1="788.00" y1="496.50" x2="803.00" y2="496.50" stroke="#777" stroke-width="0.6" />
<path d="M689,459.6 L693,459.6 Q695,460 695,462.5 L695,465.7 L689,465.7" fill="none" stroke="#000" stroke-width="0.8" />
<text x="817.50" y="408.30" font-size="6.5" text-anchor="middle" fill="#000" font-weight="normal" font-family="Liberation Sans, sans-serif" transform="rotate(90 817.50 408.30)"  >TG</text>
<circle cx="663.20" cy="525.10" r="12.90" fill="none" stroke="#000" stroke-width="0.9" />
<circle cx="663.20" cy="525.10" r="9.30" fill="none" stroke="#000" stroke-width="0.9" />
<circle cx="663.20" cy="525.10" r="2.00" fill="#000" stroke="#000" stroke-width="0" />
<rect x="655.00" y="554.20" width="16.40" height="14.90" rx="1" fill="none" stroke="#000" stroke-width="0.9" />
<line x1="649.00" y1="552.50" x2="676.00" y2="552.50" stroke="#000" stroke-width="1.5" />
<rect x="600.40" y="520.70" width="21.60" height="7.30" rx="0" fill="none" stroke="#000" stroke-width="0.9" />
<rect x="612.30" y="528.00" width="8.70" height="32.00" rx="0" fill="none" stroke="#000" stroke-width="0.9" />
<rect x="613.50" y="530.00" width="6.00" height="4.00" rx="0" fill="none" stroke="#000" stroke-width="0.8" />
<rect x="599.40" y="544.40" width="13.90" height="16.40" rx="1.5" fill="none" stroke="#000" stroke-width="0.9" />
<line x1="599.40" y1="549.00" x2="613.30" y2="549.00" stroke="#000" stroke-width="0.7" />
<line x1="599.40" y1="555.00" x2="613.30" y2="555.00" stroke="#000" stroke-width="0.7" />
<rect x="603.00" y="560.80" width="6.60" height="2.70" rx="0" fill="none" stroke="#000" stroke-width="0.8" />
<g transform="translate(605.5 278.5) rotate(-45)">
<path d="M-11,-4 L-11,4 Q-11,7 -8,7 L-4,7 L-4,9.5 L8,9.5 Q11,9.5 11,6.5 L11,-6.5 Q11,-9.5 8,-9.5 L-4,-9.5 L-4,-7 L-8,-7 Q-11,-7 -11,-4 Z" fill="#fff" stroke="#000" stroke-width="0.9" />
<line x1="-11.00" y1="2.50" x2="11.00" y2="2.50" stroke="#000" stroke-width="1.6" />
<line x1="-11.00" y1="5.20" x2="11.00" y2="5.20" stroke="#000" stroke-width="0.7" />
<rect x="-3.00" y="6.20" width="4.00" height="3.20" rx="0" fill="none" stroke="#000" stroke-width="0.7" />
<rect x="3.00" y="6.20" width="4.00" height="3.20" rx="0" fill="none" stroke="#000" stroke-width="0.7" />
<circle cx="-6.00" cy="4.00" r="0.80" fill="#000" stroke="#000" stroke-width="0" />
<path d="M-5,-4 L5,-4 M-5,-1.5 L5,-1.5" fill="none" stroke="#d04070" stroke-width="0.6" />
<line x1="-6.00" y1="-2.80" x2="6.00" y2="-2.80" stroke="#d04070" stroke-width="1.0" />
</g>
<g transform="translate(865.6 278.5) rotate(45)">
<path d="M-11,-4 L-11,4 Q-11,7 -8,7 L-4,7 L-4,9.5 L8,9.5 Q11,9.5 11,6.5 L11,-6.5 Q11,-9.5 8,-9.5 L-4,-9.5 L-4,-7 L-8,-7 Q-11,-7 -11,-4 Z" fill="#fff" stroke="#000" stroke-width="0.9" />
<line x1="-11.00" y1="2.50" x2="11.00" y2="2.50" stroke="#000" stroke-width="1.6" />
<line x1="-11.00" y1="5.20" x2="11.00" y2="5.20" stroke="#000" stroke-width="0.7" />
<rect x="-3.00" y="6.20" width="4.00" height="3.20" rx="0" fill="none" stroke="#000" stroke-width="0.7" />
<rect x="3.00" y="6.20" width="4.00" height="3.20" rx="0" fill="none" stroke="#000" stroke-width="0.7" />
<circle cx="-6.00" cy="4.00" r="0.80" fill="#000" stroke="#000" stroke-width="0" />
<path d="M-5,-4 L5,-4 M-5,-1.5 L5,-1.5" fill="none" stroke="#d04070" stroke-width="0.6" />
<line x1="-6.00" y1="-2.80" x2="6.00" y2="-2.80" stroke="#d04070" stroke-width="1.0" />
</g>
<g transform="translate(865.4 538.8) rotate(135)">
<path d="M-11,-4 L-11,4 Q-11,7 -8,7 L-4,7 L-4,9.5 L8,9.5 Q11,9.5 11,6.5 L11,-6.5 Q11,-9.5 8,-9.5 L-4,-9.5 L-4,-7 L-8,-7 Q-11,-7 -11,-4 Z" fill="#fff" stroke="#000" stroke-width="0.9" />
<line x1="-11.00" y1="2.50" x2="11.00" y2="2.50" stroke="#000" stroke-width="1.6" />
<line x1="-11.00" y1="5.20" x2="11.00" y2="5.20" stroke="#000" stroke-width="0.7" />
<rect x="-3.00" y="6.20" width="4.00" height="3.20" rx="0" fill="none" stroke="#000" stroke-width="0.7" />
<rect x="3.00" y="6.20" width="4.00" height="3.20" rx="0" fill="none" stroke="#000" stroke-width="0.7" />
<circle cx="-6.00" cy="4.00" r="0.80" fill="#000" stroke="#000" stroke-width="0" />
<path d="M-5,-4 L5,-4 M-5,-1.5 L5,-1.5" fill="none" stroke="#d04070" stroke-width="0.6" />
<line x1="-6.00" y1="-2.80" x2="6.00" y2="-2.80" stroke="#d04070" stroke-width="1.0" />
</g>
<g transform="translate(636 534.6) rotate(-29)">
<rect x="-5.40" y="-3.70" width="10.80" height="7.40" rx="0" fill="#fff" stroke="#000" stroke-width="0.9" />
<rect x="-3.00" y="-1.50" width="3.00" height="3.00" rx="0" fill="none" stroke="#000" stroke-width="0.7" />
<circle cx="2.50" cy="0.00" r="0.80" fill="#000" stroke="#000" stroke-width="0" />
</g>
<path d="M624.5,538.5 Q620.5,545 625,549.5 Q626.5,551 629,551 L644,551" fill="none" stroke="#333" stroke-width="0.8" />
<circle cx="624.20" cy="544.50" r="0.90" fill="none" stroke="#000" stroke-width="0.6" />
<line x1="630.30" y1="539.20" x2="633.40" y2="550.60" stroke="#e8b040" stroke-width="0.8" />
<line x1="635.40" y1="540.30" x2="638.50" y2="550.60" stroke="#e8b040" stroke-width="0.8" />
<line x1="630.30" y1="541.80" x2="639.50" y2="541.80" stroke="#d04070" stroke-width="0.8" />
<line x1="604.50" y1="228.30" x2="604.50" y2="278.00" stroke="#000" stroke-width="1.0" />
<line x1="865.40" y1="228.30" x2="865.40" y2="278.00" stroke="#000" stroke-width="1.0" />
<line x1="604.50" y1="228.30" x2="865.40" y2="228.30" stroke="#000" stroke-width="1.0" />
<text x="741.90" y="226.80" font-size="15" text-anchor="middle" fill="#000" font-weight="normal" font-family="Liberation Sans, sans-serif"  textLength="26.2" lengthAdjust="spacingAndGlyphs" >517</text>
<line x1="555.30" y1="277.40" x2="605.00" y2="277.40" stroke="#000" stroke-width="1.0" />
<line x1="555.30" y1="542.30" x2="632.50" y2="542.30" stroke="#000" stroke-width="1.0" />
<line x1="555.30" y1="277.40" x2="555.30" y2="542.30" stroke="#000" stroke-width="1.0" />
<text x="554.30" y="403.60" font-size="15" text-anchor="middle" fill="#000" font-weight="normal" font-family="Liberation Sans, sans-serif" transform="rotate(-90 554.30 403.60)" textLength="25.2" lengthAdjust="spacingAndGlyphs" >523</text>
<line x1="866.00" y1="277.60" x2="925.60" y2="277.60" stroke="#000" stroke-width="1.0" />
<line x1="866.00" y1="538.50" x2="925.60" y2="538.50" stroke="#000" stroke-width="1.0" />
<line x1="925.60" y1="277.60" x2="925.60" y2="538.50" stroke="#000" stroke-width="1.0" />
<text x="925.00" y="401.00" font-size="15.5" text-anchor="middle" fill="#000" font-weight="normal" font-family="Liberation Sans, sans-serif" transform="rotate(-90 925.00 401.00)" textLength="25.5" lengthAdjust="spacingAndGlyphs" >517</text>
<line x1="840.00" y1="264.70" x2="951.60" y2="264.70" stroke="#000" stroke-width="1.0" />
<line x1="838.00" y1="551.80" x2="951.60" y2="551.80" stroke="#000" stroke-width="1.0" />
<line x1="951.60" y1="264.70" x2="951.60" y2="551.80" stroke="#000" stroke-width="1.0" />
<text x="950.80" y="401.60" font-size="15.5" text-anchor="middle" fill="#000" font-weight="normal" font-family="Liberation Sans, sans-serif" transform="rotate(-90 950.80 401.60)" textLength="25.5" lengthAdjust="spacingAndGlyphs" >570</text>
<line x1="632.40" y1="542.00" x2="632.40" y2="588.40" stroke="#000" stroke-width="1.0" />
<line x1="865.30" y1="539.00" x2="865.30" y2="588.40" stroke="#000" stroke-width="1.0" />
<line x1="632.40" y1="588.40" x2="865.30" y2="588.40" stroke="#000" stroke-width="1.0" />
<text x="755.90" y="586.60" font-size="15" text-anchor="middle" fill="#000" font-weight="normal" font-family="Liberation Sans, sans-serif"   >461</text>
<line x1="591.70" y1="520.00" x2="591.70" y2="606.30" stroke="#000" stroke-width="1.0" />
<line x1="879.00" y1="513.00" x2="879.00" y2="606.30" stroke="#000" stroke-width="1.0" />
<line x1="591.70" y1="606.30" x2="879.00" y2="606.30" stroke="#000" stroke-width="1.0" />
<text x="741.80" y="605.00" font-size="15" text-anchor="middle" fill="#000" font-weight="normal" font-family="Liberation Sans, sans-serif"  textLength="25.7" lengthAdjust="spacingAndGlyphs" >570</text>
<line x1="591.30" y1="692.80" x2="878.30" y2="692.80" stroke="#000" stroke-width="1.3" />
<line x1="878.30" y1="692.80" x2="878.30" y2="821.00" stroke="#000" stroke-width="1.8" />
<line x1="591.30" y1="820.80" x2="878.30" y2="820.80" stroke="#000" stroke-width="2.6" />
<line x1="591.40" y1="692.80" x2="591.40" y2="821.00" stroke="#555" stroke-width="0.9" />
<line x1="593.90" y1="692.80" x2="593.90" y2="820.00" stroke="#777" stroke-width="0.8" />
<rect x="589.60" y="704.00" width="3.70" height="58.00" rx="1" fill="none" stroke="#777" stroke-width="0.7" />
<rect x="617.70" y="692.80" width="11.30" height="31.20" rx="0" fill="none" stroke="#555" stroke-width="0.8" />
<rect x="600.90" y="692.80" width="16.80" height="29.40" rx="0" fill="none" stroke="#000" stroke-width="1.4" />
<line x1="600.90" y1="707.50" x2="617.70" y2="707.50" stroke="#000" stroke-width="1.2" />
<circle cx="597.60" cy="698.50" r="1.60" fill="none" stroke="#000" stroke-width="0.8" />
<circle cx="624.00" cy="708.50" r="1.60" fill="none" stroke="#000" stroke-width="0.8" />
<line x1="627.80" y1="692.80" x2="627.80" y2="820.00" stroke="#555" stroke-width="0.8" />
<line x1="629.60" y1="722.00" x2="629.60" y2="820.00" stroke="#555" stroke-width="0.8" />
<line x1="633.00" y1="692.80" x2="633.00" y2="820.00" stroke="#000" stroke-width="0.8" />
<line x1="636.20" y1="700.00" x2="636.20" y2="781.00" stroke="#000" stroke-width="2.2" />
<line x1="645.20" y1="692.80" x2="645.20" y2="820.00" stroke="#000" stroke-width="0.8" />
<line x1="647.80" y1="692.80" x2="647.80" y2="820.00" stroke="#000" stroke-width="1.0" />
<rect x="638.50" y="694.00" width="5.50" height="9.00" rx="0" fill="none" stroke="#555" stroke-width="0.6" />
<path d="M638.5,755 L638.5,770 L642,770" fill="none" stroke="#555" stroke-width="0.7" />
<line x1="623.50" y1="782.20" x2="645.20" y2="782.20" stroke="#000" stroke-width="1.6" />
<circle cx="627.00" cy="781.00" r="1.50" fill="none" stroke="#000" stroke-width="0.7" />
<circle cx="640.00" cy="781.00" r="1.50" fill="none" stroke="#000" stroke-width="0.7" />
<rect x="618.30" y="738.70" width="6.00" height="7.80" rx="0" fill="none" stroke="#000" stroke-width="0.8" />
<line x1="617.00" y1="733.00" x2="617.00" y2="754.00" stroke="#000" stroke-width="1.6" />
<path d="M655,683.4 L684,683.4 L686.5,685.2" fill="none" stroke="#000" stroke-width="1.3" />
<path d="M647.4,692.8 L647.4,685.5 L689.4,685.5 L689.4,692.8" fill="none" stroke="#000" stroke-width="1.5" />
<line x1="649.50" y1="687.60" x2="667.00" y2="687.60" stroke="#555" stroke-width="0.8" />
<path d="M667,692.5 Q667.5,687.3 671.5,687.3 Q674.6,687.5 674,690.5 L673,692.5" fill="none" stroke="#000" stroke-width="1.3" />
<path d="M677.2,692.5 L677.2,688 Q677.5,687.2 679,687.2 L684.5,687.2 Q685.7,687.5 685.7,689 L685.7,692.5" fill="none" stroke="#000" stroke-width="1.2" />
<line x1="686.80" y1="686.00" x2="686.80" y2="692.50" stroke="#555" stroke-width="0.8" />
<circle cx="659.10" cy="717.80" r="1.80" fill="none" stroke="#000" stroke-width="0.8" />
<circle cx="827.40" cy="718.20" r="1.80" fill="none" stroke="#000" stroke-width="0.8" />
<circle cx="717.20" cy="750.00" r="0.80" fill="#000" stroke="#000" stroke-width="0" />
<circle cx="764.10" cy="750.00" r="0.80" fill="#000" stroke="#000" stroke-width="0" />
<circle cx="811.00" cy="750.00" r="0.80" fill="#000" stroke="#000" stroke-width="0" />
<circle cx="717.20" cy="775.00" r="0.80" fill="#000" stroke="#000" stroke-width="0" />
<circle cx="811.00" cy="775.00" r="0.80" fill="#000" stroke="#000" stroke-width="0" />
<circle cx="717.20" cy="799.80" r="0.80" fill="#000" stroke="#000" stroke-width="0" />
<circle cx="764.10" cy="799.80" r="0.80" fill="#000" stroke="#000" stroke-width="0" />
<circle cx="811.00" cy="799.80" r="0.80" fill="#000" stroke="#000" stroke-width="0" />
<circle cx="735.30" cy="815.80" r="0.80" fill="#000" stroke="#000" stroke-width="0" />
<circle cx="611.50" cy="817.50" r="0.80" fill="#000" stroke="#000" stroke-width="0" />
<rect x="726.20" y="754.70" width="37.10" height="2.90" rx="1.4" fill="#aaa" stroke="#333" stroke-width="0.7" />
<rect x="726.20" y="792.30" width="37.10" height="2.90" rx="1.4" fill="#aaa" stroke="#333" stroke-width="0.7" />
<rect x="764.90" y="754.70" width="37.10" height="2.90" rx="1.4" fill="#aaa" stroke="#333" stroke-width="0.7" />
<rect x="764.90" y="792.30" width="37.10" height="2.90" rx="1.4" fill="#aaa" stroke="#333" stroke-width="0.7" />
<rect x="722.10" y="755.00" width="2.70" height="18.80" rx="1.3" fill="#fff" stroke="#333" stroke-width="0.7" />
<rect x="803.50" y="755.00" width="2.70" height="18.80" rx="1.3" fill="#aaa" stroke="#333" stroke-width="0.7" />
<rect x="722.10" y="775.50" width="2.70" height="18.90" rx="1.3" fill="#fff" stroke="#333" stroke-width="0.7" />
<rect x="803.50" y="775.50" width="2.70" height="18.90" rx="1.3" fill="#aaa" stroke="#333" stroke-width="0.7" />
<path d="M665.2,819.6 L665.2,812 L675.7,812 L675.7,819.6" fill="none" stroke="#000" stroke-width="0.8" />
<path d="M809.3,819.6 L809.3,811.4 L820.9,811.4 L820.9,819.6" fill="none" stroke="#000" stroke-width="0.8" />
<line x1="837.60" y1="692.80" x2="837.60" y2="820.00" stroke="#000" stroke-width="0.9" />
<line x1="839.50" y1="692.80" x2="839.50" y2="820.00" stroke="#000" stroke-width="0.9" />
<path d="M849.5,693.5 L849.5,697.5 L858,697.5 L858,718 Q858,720 856,720 L853,720 Q851.2,720 851.2,722 L851.2,783 L870,783 L870,697.5 L875,697.5 L875,693.5 Z" fill="none" stroke="#000" stroke-width="1.0" />
<line x1="852.80" y1="724.00" x2="852.80" y2="781.00" stroke="#777" stroke-width="0.7" />
<line x1="867.60" y1="700.00" x2="867.60" y2="778.00" stroke="#000" stroke-width="1.6" />
<rect x="855.40" y="751.70" width="8.10" height="9.80" rx="0" fill="none" stroke="#000" stroke-width="0.9" />
<circle cx="863.00" cy="699.70" r="1.00" fill="#000" stroke="#000" stroke-width="0" />
<circle cx="872.30" cy="747.00" r="1.00" fill="#000" stroke="#000" stroke-width="0" />
<circle cx="860.00" cy="772.50" r="1.20" fill="#000" stroke="#000" stroke-width="0" />
<rect x="866.00" y="779.40" width="3.50" height="3.60" rx="0" fill="none" stroke="#000" stroke-width="0.7" />
<rect x="873.50" y="779.40" width="4.20" height="3.60" rx="0" fill="none" stroke="#000" stroke-width="0.7" />
<line x1="868.40" y1="783.00" x2="868.40" y2="820.00" stroke="#777" stroke-width="0.6" />
<circle cx="616.20" cy="728.80" r="4.60" fill="none" stroke="#000" stroke-width="2.0" />
<circle cx="616.20" cy="728.80" r="1.20" fill="none" stroke="#000" stroke-width="0.8" />
<circle cx="606.10" cy="759.10" r="6.20" fill="#333" stroke="#000" stroke-width="0" />
<circle cx="606.10" cy="759.10" r="6.20" fill="none" stroke="#000" stroke-width="1.2" />
<circle cx="606.10" cy="759.10" r="3.00" fill="none" stroke="#fff" stroke-width="0.9" />
<circle cx="606.10" cy="759.10" r="1.00" fill="#000" stroke="#000" stroke-width="0" />
<path d="M598,757 L600,755.5 L603,755.5" fill="none" stroke="#000" stroke-width="0.8" />
<path d="M611,755 L613,754 L614,757" fill="none" stroke="#000" stroke-width="0.8" />
<rect x="649.60" y="760.30" width="27.10" height="27.30" rx="0" fill="none" stroke="#000" stroke-width="1.0" />
<circle cx="663.10" cy="773.60" r="9.30" fill="none" stroke="#000" stroke-width="3.0" />
<circle cx="663.10" cy="773.60" r="3.80" fill="none" stroke="#000" stroke-width="0.9" />
<circle cx="663.10" cy="773.60" r="1.00" fill="#000" stroke="#000" stroke-width="0" />
<circle cx="652.80" cy="763.70" r="1.60" fill="#333" stroke="#000" stroke-width="1.0" />
<circle cx="673.80" cy="784.30" r="1.60" fill="#333" stroke="#000" stroke-width="1.0" />
<circle cx="605.40" cy="648.10" r="6.50" fill="none" stroke="#000" stroke-width="1.0" />
<text x="605.40" y="652.42" font-size="12" text-anchor="middle" fill="#000" font-weight="normal" font-family="Liberation Sans, sans-serif"   >4</text>
<circle cx="621.80" cy="648.10" r="6.50" fill="none" stroke="#000" stroke-width="1.0" />
<text x="621.80" y="652.42" font-size="12" text-anchor="middle" fill="#000" font-weight="normal" font-family="Liberation Sans, sans-serif"   >5</text>
<line x1="605.40" y1="654.60" x2="605.40" y2="745.00" stroke="#000" stroke-width="0.9" />
<polygon points="605.40,753.20 601.00,744.70 609.80,744.70" fill="#000" stroke="none" stroke-width="0" />
<line x1="621.60" y1="654.60" x2="619.40" y2="716.00" stroke="#000" stroke-width="0.9" />
<polygon points="619.10,722.60 614.96,714.95 623.76,715.26" fill="#000" stroke="none" stroke-width="0" />
<line x1="606.20" y1="759.00" x2="606.20" y2="845.30" stroke="#000" stroke-width="1.0" />
<line x1="616.50" y1="729.00" x2="616.50" y2="845.30" stroke="#000" stroke-width="1.0" />
<circle cx="666.40" cy="900.50" r="6.50" fill="none" stroke="#000" stroke-width="1.0" />
<text x="666.40" y="904.82" font-size="12" text-anchor="middle" fill="#000" font-weight="normal" font-family="Liberation Sans, sans-serif"   >6</text>
<line x1="666.40" y1="894.00" x2="666.40" y2="792.00" stroke="#000" stroke-width="0.9" />
<polygon points="666.40,784.20 670.70,792.20 662.10,792.20" fill="#000" stroke="none" stroke-width="0" />
<line x1="554.30" y1="729.40" x2="612.00" y2="729.40" stroke="#000" stroke-width="1.0" />
<line x1="554.30" y1="759.50" x2="600.00" y2="759.50" stroke="#000" stroke-width="1.0" />
<line x1="554.30" y1="729.40" x2="554.30" y2="822.20" stroke="#000" stroke-width="1.0" />
<line x1="570.30" y1="773.40" x2="659.00" y2="773.40" stroke="#000" stroke-width="1.0" />
<line x1="570.30" y1="773.40" x2="570.30" y2="822.20" stroke="#000" stroke-width="1.0" />
<line x1="554.30" y1="822.20" x2="592.00" y2="822.20" stroke="#000" stroke-width="1.0" />
<text x="552.20" y="741.40" font-size="13.2" text-anchor="middle" fill="#000" font-weight="normal" font-family="Liberation Sans, sans-serif" transform="rotate(-90 552.20 741.40)" textLength="23.2" lengthAdjust="spacingAndGlyphs" >59,5</text>
<text x="552.60" y="790.00" font-size="12.8" text-anchor="middle" fill="#000" font-weight="normal" font-family="Liberation Sans, sans-serif" transform="rotate(-90 552.60 790.00)" textLength="18.5" lengthAdjust="spacingAndGlyphs" >125</text>
<text x="568.60" y="793.50" font-size="14.6" text-anchor="middle" fill="#000" font-weight="normal" font-family="Liberation Sans, sans-serif" transform="rotate(-90 568.60 793.50)" textLength="29.6" lengthAdjust="spacingAndGlyphs" >95,5</text>
<line x1="591.70" y1="822.00" x2="591.70" y2="874.50" stroke="#000" stroke-width="1.0" />
<line x1="592.50" y1="844.60" x2="616.50" y2="844.60" stroke="#000" stroke-width="1.0" />
<text x="598.70" y="842.80" font-size="13.2" text-anchor="middle" fill="#000" font-weight="normal" font-family="Liberation Sans, sans-serif"  textLength="10.2" lengthAdjust="spacingAndGlyphs" >30</text>
<text x="611.40" y="842.80" font-size="13.2" text-anchor="middle" fill="#000" font-weight="normal" font-family="Liberation Sans, sans-serif"  textLength="9.0" lengthAdjust="spacingAndGlyphs" >19</text>
<line x1="663.30" y1="773.60" x2="663.30" y2="860.20" stroke="#000" stroke-width="1.0" />
<line x1="592.50" y1="860.20" x2="663.30" y2="860.20" stroke="#000" stroke-width="1.0" />
<text x="626.90" y="858.30" font-size="15" text-anchor="middle" fill="#000" font-weight="normal" font-family="Liberation Sans, sans-serif"  textLength="37.0" lengthAdjust="spacingAndGlyphs" >142,5</text>
<line x1="877.90" y1="822.00" x2="877.90" y2="874.50" stroke="#000" stroke-width="1.0" />
<line x1="591.70" y1="874.50" x2="877.90" y2="874.50" stroke="#000" stroke-width="1.0" />
<text x="742.40" y="872.60" font-size="15" text-anchor="middle" fill="#000" font-weight="normal" font-family="Liberation Sans, sans-serif"   >570</text>
<line x1="878.50" y1="692.50" x2="927.70" y2="692.50" stroke="#000" stroke-width="1.0" />
<line x1="870.00" y1="822.20" x2="927.70" y2="822.20" stroke="#000" stroke-width="1.0" />
<line x1="927.70" y1="692.50" x2="927.70" y2="822.20" stroke="#000" stroke-width="1.0" />
<text x="926.10" y="755.80" font-size="15.5" text-anchor="middle" fill="#000" font-weight="normal" font-family="Liberation Sans, sans-serif" transform="rotate(-90 926.10 755.80)" textLength="26.0" lengthAdjust="spacingAndGlyphs" >256</text>
<line x1="810.50" y1="774.40" x2="911.50" y2="774.40" stroke="#000" stroke-width="1.0" />
<line x1="911.50" y1="774.40" x2="911.50" y2="822.20" stroke="#000" stroke-width="1.0" />
<text x="910.60" y="800.40" font-size="15.3" text-anchor="middle" fill="#000" font-weight="normal" font-family="Liberation Sans, sans-serif" transform="rotate(-90 910.60 800.40)" textLength="17.2" lengthAdjust="spacingAndGlyphs" >94</text>
<line x1="868.70" y1="783.30" x2="898.60" y2="783.30" stroke="#000" stroke-width="1.0" />
<line x1="898.60" y1="783.30" x2="898.60" y2="822.20" stroke="#000" stroke-width="1.0" />
<text x="897.20" y="804.80" font-size="15.3" text-anchor="middle" fill="#000" font-weight="normal" font-family="Liberation Sans, sans-serif" transform="rotate(-90 897.20 804.80)" textLength="17.0" lengthAdjust="spacingAndGlyphs" >76</text>
<rect x="61.50" y="646.50" width="335.00" height="189.00" rx="0" fill="none" stroke="#000" stroke-width="1.0" />
<line x1="118.50" y1="646.50" x2="118.50" y2="835.50" stroke="#000" stroke-width="1.0" />
<line x1="61.50" y1="666.50" x2="396.50" y2="666.50" stroke="#000" stroke-width="1.0" />
<line x1="61.50" y1="687.50" x2="396.50" y2="687.50" stroke="#000" stroke-width="1.0" />
<line x1="61.50" y1="708.50" x2="396.50" y2="708.50" stroke="#000" stroke-width="1.0" />
<line x1="61.50" y1="730.50" x2="396.50" y2="730.50" stroke="#000" stroke-width="1.0" />
<line x1="61.50" y1="751.50" x2="396.50" y2="751.50" stroke="#000" stroke-width="1.0" />
<line x1="61.50" y1="772.50" x2="396.50" y2="772.50" stroke="#000" stroke-width="1.0" />
<line x1="61.50" y1="793.50" x2="396.50" y2="793.50" stroke="#000" stroke-width="1.0" />
<line x1="61.50" y1="814.50" x2="396.50" y2="814.50" stroke="#000" stroke-width="1.0" />
<text x="90.40" y="657.40" font-size="10.9" text-anchor="middle" fill="#000" font-weight="normal" font-family="Liberation Sans, sans-serif"  textLength="16.2" lengthAdjust="spacingAndGlyphs" >No.</text>
<text x="124.00" y="657.40" font-size="10.9" text-anchor="start" fill="#000" font-weight="normal" font-family="Liberation Sans, sans-serif"  textLength="49.6" lengthAdjust="spacingAndGlyphs" >Описание</text>
<text x="89.90" y="678.00" font-size="9.6" text-anchor="middle" fill="#000" font-weight="bold" font-family="Liberation Sans, sans-serif"   >1</text>
<text x="124.00" y="678.00" font-size="9.5" text-anchor="start" fill="#000" font-weight="normal" font-family="Liberation Sans, sans-serif"  textLength="151.0" lengthAdjust="spacing" stroke="#000" stroke-width="0.35">Декоративная панель (PT-UQC)</text>
<text x="89.90" y="698.90" font-size="9.6" text-anchor="middle" fill="#000" font-weight="bold" font-family="Liberation Sans, sans-serif"   >2</text>
<text x="124.00" y="698.90" font-size="9.5" text-anchor="start" fill="#000" font-weight="normal" font-family="Liberation Sans, sans-serif"  textLength="128.4" lengthAdjust="spacing" stroke="#000" stroke-width="0.35">Воздухозаборная решетка</text>
<text x="89.90" y="719.90" font-size="9.6" text-anchor="middle" fill="#000" font-weight="bold" font-family="Liberation Sans, sans-serif"   >3</text>
<text x="124.00" y="719.90" font-size="9.5" text-anchor="start" fill="#000" font-weight="normal" font-family="Liberation Sans, sans-serif"  textLength="178.3" lengthAdjust="spacing" stroke="#000" stroke-width="0.35">Воздухораспределительная решетка</text>
<text x="89.90" y="740.80" font-size="9.6" text-anchor="middle" fill="#000" font-weight="bold" font-family="Liberation Sans, sans-serif"   >4</text>
<text x="124.00" y="740.80" font-size="9.5" text-anchor="start" fill="#000" font-weight="normal" font-family="Liberation Sans, sans-serif"  textLength="193.5" lengthAdjust="spacing" stroke="#000" stroke-width="0.35">Подсоединение газового трубопровода</text>
<text x="89.90" y="761.70" font-size="9.6" text-anchor="middle" fill="#000" font-weight="bold" font-family="Liberation Sans, sans-serif"   >5</text>
<text x="124.00" y="761.70" font-size="9.5" text-anchor="start" fill="#000" font-weight="normal" font-family="Liberation Sans, sans-serif"  textLength="215.3" lengthAdjust="spacing" stroke="#000" stroke-width="0.35">Подсоединение жидкостного трубопровода</text>
<text x="89.90" y="782.60" font-size="9.6" text-anchor="middle" fill="#000" font-weight="bold" font-family="Liberation Sans, sans-serif"   >6</text>
<text x="124.00" y="782.60" font-size="9.5" text-anchor="start" fill="#000" font-weight="normal" font-family="Liberation Sans, sans-serif"  textLength="177.8" lengthAdjust="spacing" stroke="#000" stroke-width="0.35">Подсоединение дренажного шланга</text>
<text x="89.90" y="803.70" font-size="9.6" text-anchor="middle" fill="#000" font-weight="bold" font-family="Liberation Sans, sans-serif"   >7</text>
<text x="124.00" y="803.70" font-size="9.5" text-anchor="start" fill="#000" font-weight="normal" font-family="Liberation Sans, sans-serif"  textLength="184.6" lengthAdjust="spacing" stroke="#000" stroke-width="0.35">Подключение кабеля электропитания</text>
<text x="89.90" y="824.90" font-size="9.6" text-anchor="middle" fill="#000" font-weight="bold" font-family="Liberation Sans, sans-serif"   >8</text>
<text x="124.00" y="824.90" font-size="9.5" text-anchor="start" fill="#000" font-weight="normal" font-family="Liberation Sans, sans-serif"  textLength="146.9" lengthAdjust="spacing" stroke="#000" stroke-width="0.35">Подача свежего воздуха (Ø70)</text>
<text x="12.90" y="899.50" font-size="22" text-anchor="start" fill="#3a3a3a" font-weight="normal" font-family="Liberation Sans, sans-serif"  textLength="116.5" lengthAdjust="spacingAndGlyphs" stroke="#3a3a3a" stroke-width="0.15">Ед. изм.: мм</text>
</svg>
</body></html>
